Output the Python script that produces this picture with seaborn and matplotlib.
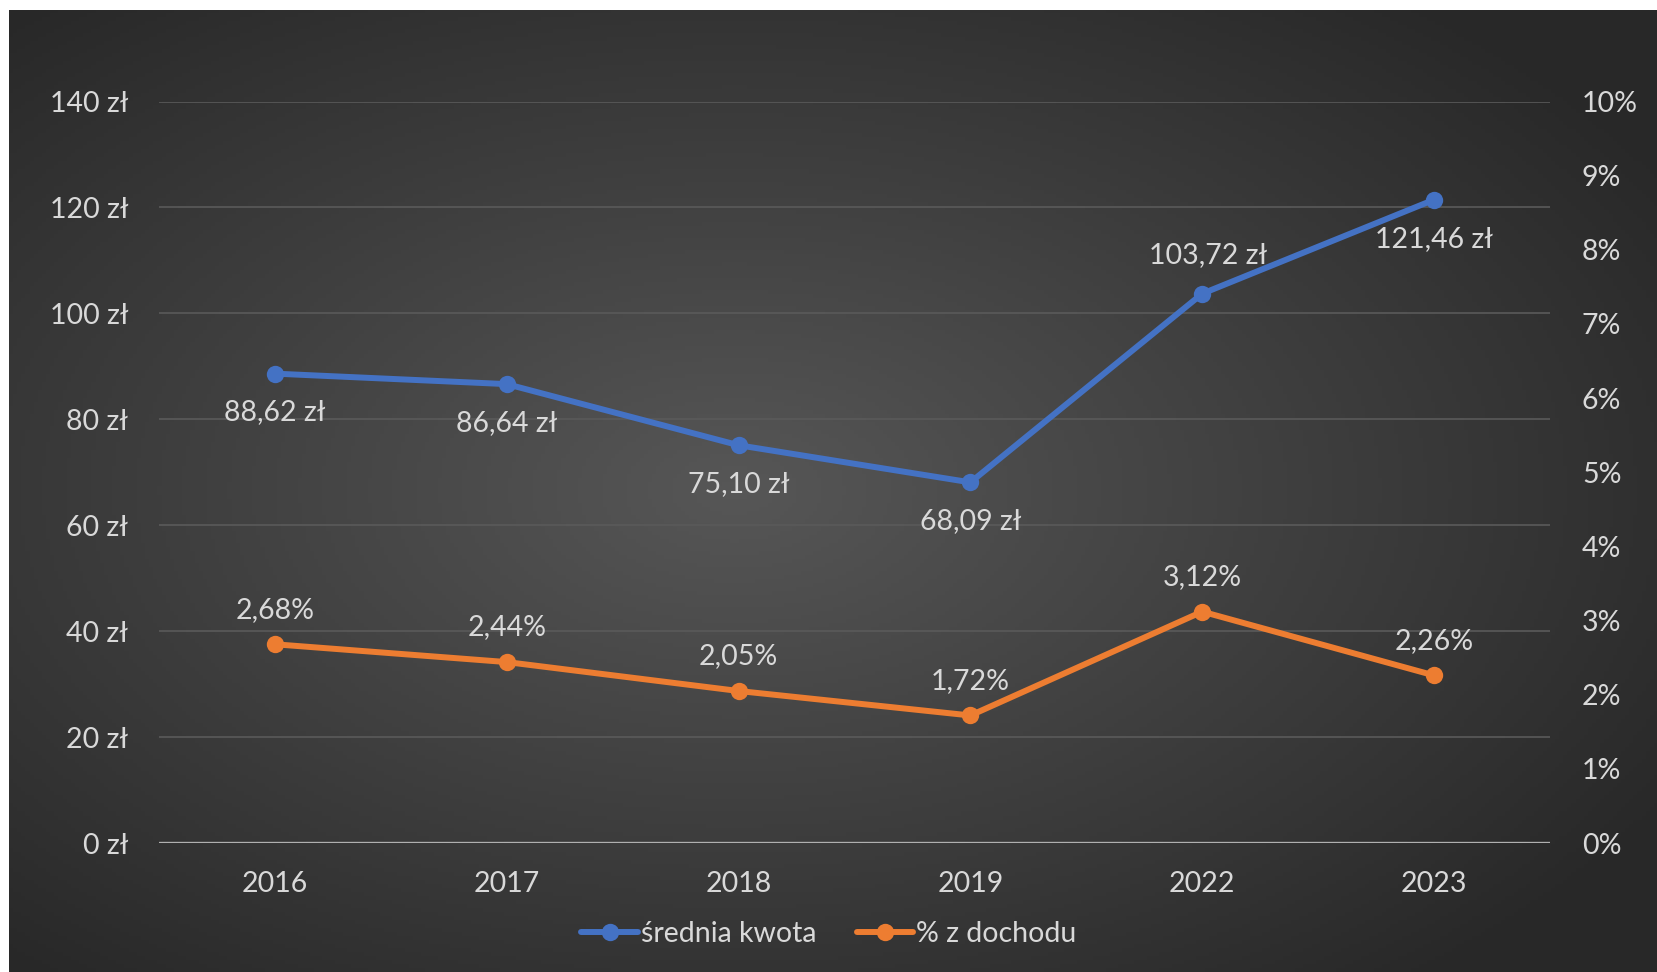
import numpy as np
import matplotlib
matplotlib.use("Agg")
import matplotlib.pyplot as plt
import seaborn as sns
from matplotlib.lines import Line2D

# data
years = ["2016", "2017", "2018", "2019", "2022", "2023"]
avg_amount = [88.62, 86.64, 75.10, 68.09, 103.72, 121.46]
pct_income = [2.68, 2.44, 2.05, 1.72, 3.12, 2.26]
amount_labels = ["88,62 zł", "86,64 zł", "75,10 zł", "68,09 zł", "103,72 zł", "121,46 zł"]
pct_labels = ["2,68%", "2,44%", "2,05%", "1,72%", "3,12%", "2,26%"]
left_ticks = [0, 20, 40, 60, 80, 100, 120, 140]
right_ticks = list(range(0, 11))

BLUE = "#4472C4"
ORANGE = "#ED7D31"
TXT = "#D9D9D9"
FS = 20.5
LW = 4.3
MS = 12.5

sns.set_theme(style="dark")
plt.rcParams['font.family'] = ['Lato', 'DejaVu Sans']

W, H = 1658, 972
fig = plt.figure(figsize=(W / 100, H / 100), dpi=100, facecolor="white")

# radial gradient background (chart area starts a few px in from the top/left)
bg = fig.add_axes([9 / W, 0, 1 - 9 / W, 1 - 10 / H])
gx, gy = np.meshgrid(np.linspace(-1, 1, 400), np.linspace(-1, 1, 240))
r = np.sqrt((gx + 0.12) ** 2 + gy ** 2)
shade = 0.34 - 0.18 * np.clip(r / 1.3, 0, 1)
bg.imshow(np.dstack([shade] * 3), aspect="auto", extent=[0, 1, 0, 1])
bg.set_axis_off()

ax = fig.add_axes([159 / W, 1 - 843 / H, (1550 - 159) / W, (843 - 101.5) / H])
ax.set_facecolor("none")
ax2 = ax.twinx()
ax2.set_facecolor("none")

x = np.arange(len(years))

sns.lineplot(x=x, y=avg_amount, ax=ax, color=BLUE, lw=LW, marker="o",
             markersize=MS, markeredgewidth=0, sort=False, zorder=5)
sns.lineplot(x=x, y=pct_income, ax=ax2, color=ORANGE, lw=LW, marker="o",
             markersize=MS, markeredgewidth=0, sort=False, zorder=5)

ax.set_xlim(-0.5, len(years) - 0.5)
ax.set_ylim(0, 140)
ax2.set_ylim(0, 10)
ax.set_yticks(left_ticks)
ax.set_yticklabels([f"{t} zł" for t in left_ticks])
ax2.set_yticks(right_ticks)
ax2.set_yticklabels([f"{t}%" for t in right_ticks])
ax.set_xticks(x)
ax.set_xticklabels(years)

ax.grid(axis="y", color="#5a5a5a", lw=1.2)
ax.grid(axis="x", visible=False)
ax2.grid(False)
ax.axhline(0, color="#b0b0b0", lw=2.4, zorder=3)

for a in (ax, ax2):
    for s in a.spines.values():
        s.set_visible(False)
    a.tick_params(colors=TXT, labelsize=FS, length=0)
ax.tick_params(axis="y", pad=22)
ax.tick_params(axis="x", pad=20)
ax2.tick_params(axis="y", pad=23)

# data labels
for i, (v, lab) in enumerate(zip(avg_amount, amount_labels)):
    above = years[i] == "2022"
    ax.annotate(lab, (x[i], v), xytext=(4 if above else 0, 28 if above else -28),
                textcoords="offset points", ha="center", va="center",
                color=TXT, fontsize=FS, zorder=6)
for i, (v, lab) in enumerate(zip(pct_income, pct_labels)):
    ax2.annotate(lab, (x[i], v), xytext=(0, 25), textcoords="offset points",
                 ha="center", va="center", color=TXT, fontsize=FS, zorder=6)

handles = [
    Line2D([], [], color=BLUE, lw=LW, marker="o", markersize=MS, markeredgewidth=0),
    Line2D([], [], color=ORANGE, lw=LW, marker="o", markersize=MS, markeredgewidth=0),
]
fig.legend(handles, ["średnia kwota", "% z dochodu"], loc="center",
           bbox_to_anchor=(0.5, 1 - 934 / H), ncol=2, frameon=False,
           fontsize=FS, labelcolor=TXT, handlelength=2.0, handletextpad=0.1,
           columnspacing=1.4)

fig.savefig("out.png", dpi=100, facecolor="white")
